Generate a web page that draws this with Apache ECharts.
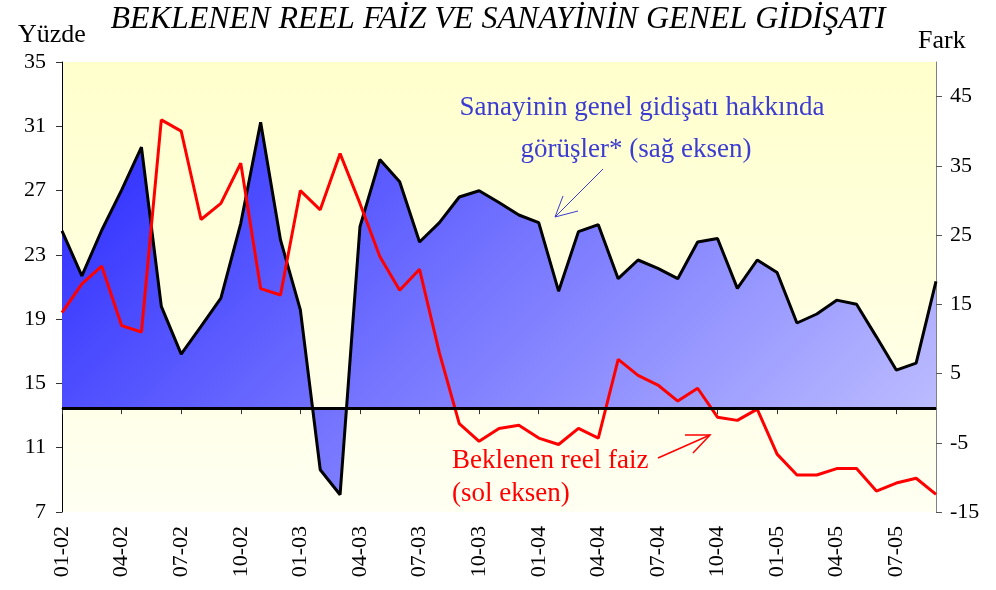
<!DOCTYPE html>
<html>
<head>
<meta charset="utf-8">
<script src="https://cdn.jsdelivr.net/npm/echarts@6/dist/echarts.min.js"></script>
<style>
  html, body { margin: 0; padding: 0; background: #fff; }
  #chart { width: 996px; height: 590px; }
</style>
</head>
<body>
<div id="chart"></div>
<script>
// aylar (ay-yıl)
const months = [
  '01-02', '02-02', '03-02', '04-02', '05-02', '06-02', '07-02', '08-02', '09-02', '10-02', '11-02', '12-02',
  '01-03', '02-03', '03-03', '04-03', '05-03', '06-03', '07-03', '08-03', '09-03', '10-03', '11-03', '12-03',
  '01-04', '02-04', '03-04', '04-04', '05-04', '06-04', '07-04', '08-04', '09-04', '10-04', '11-04', '12-04',
  '01-05', '02-05', '03-05', '04-05', '05-05', '06-05', '07-05', '08-05', '09-05'
];

// Sanayinin genel gidişatı hakkında görüşler (fark, sağ eksen)
const sanayiGorus = [
  25.6, 19.1, 25.7, 31.5, 37.7, 14.7, 7.8, 11.8, 15.9, 26.7, 41.3, 24.3,
  14.2, -8.9, -12.5, 26.2, 35.9, 32.7, 24.0, 26.8, 30.5, 31.4, 29.7, 27.9,
  26.8, 16.9, 25.5, 26.5, 18.7, 21.4, 20.2, 18.7, 24.0, 24.5, 17.3, 21.4,
  19.6, 12.3, 13.6, 15.6, 15.0, 10.3, 5.5, 6.5, 18.3
];

// Beklenen reel faiz (yüzde, sol eksen)
const reelFaiz = [
  19.4, 21.2, 22.3, 18.6, 18.2, 31.4, 30.7, 25.2, 26.2, 28.7, 20.9, 20.5,
  27.0, 25.8, 29.3, 26.2, 22.9, 20.8, 22.1, 16.9, 12.5, 11.4, 12.2, 12.4,
  11.6, 11.2, 12.2, 11.6, 16.5, 15.5, 14.9, 13.9, 14.7, 12.9, 12.7, 13.4,
  10.6, 9.3, 9.3, 9.7, 9.7, 8.3, 8.8, 9.1, 8.1
];

const leftTicks = [7, 11, 15, 19, 23, 27, 31, 35];
const rightTicks = [-15, -5, 5, 15, 25, 35, 45];

const serif = 'Liberation Serif';
const chart = echarts.init(document.getElementById('chart'));

const option = {
  animation: false,
  backgroundColor: '#fff',
  title: {
    text: 'BEKLENEN REEL FAİZ VE SANAYİNİN GENEL GİDİŞATI',
    left: 'center',
    top: -1,
    textStyle: {
      fontFamily: serif,
      fontStyle: 'italic',
      fontWeight: 'normal',
      fontSize: 32,
      color: '#000'
    }
  },
  grid: {
    left: 62,
    right: 60,
    top: 62,
    bottom: 78,
    show: true,
    borderWidth: 0,
    backgroundColor: new echarts.graphic.LinearGradient(0, 0, 0, 1, [
      { offset: 0, color: '#FFFFCC' },
      { offset: 1, color: '#FFFFF2' }
    ])
  },
  xAxis: {
    type: 'category',
    data: months,
    boundaryGap: false,
    axisLine: { lineStyle: { color: '#333', width: 1 } },
    axisTick: { interval: 2, length: 6, lineStyle: { color: '#333' } },
    axisLabel: {
      interval: 2,
      rotate: 90,
      margin: 14,
      fontFamily: serif,
      fontSize: 22,
      color: '#000'
    },
    splitLine: { show: false }
  },
  yAxis: [
    {
      type: 'value',
      position: 'left',
      min: 7,
      max: 35,
      axisLine: { show: true, lineStyle: { color: '#000', width: 1 } },
      axisTick: { show: true, customValues: leftTicks, length: 6, lineStyle: { color: '#333' } },
      axisLabel: {
        customValues: leftTicks,
        margin: 16,
        fontFamily: serif,
        fontSize: 22,
        color: '#000'
      },
      splitLine: { show: false }
    },
    {
      type: 'value',
      position: 'right',
      min: -15,
      max: 50,
      axisLine: { show: true, lineStyle: { color: '#808080', width: 1 } },
      axisTick: { show: true, customValues: rightTicks, length: 6, lineStyle: { color: '#555' } },
      axisLabel: {
        customValues: rightTicks,
        margin: 14,
        fontFamily: serif,
        fontSize: 22,
        color: '#000'
      },
      splitLine: { show: false }
    }
  ],
  series: [
    {
      name: 'Sanayinin genel gidişatı',
      type: 'line',
      yAxisIndex: 1,
      data: sanayiGorus,
      symbol: 'none',
      lineStyle: { color: '#000', width: 3 },
      areaStyle: {
        origin: 0,
        opacity: 1,
        // global gradient, top-left dark blue -> bottom-right light lavender
        color: new echarts.graphic.LinearGradient(62, 62, 724, 724, [
          { offset: 0, color: '#2020FF' },
          { offset: 0.45, color: '#7070FF' },
          { offset: 1, color: '#C8C8FF' }
        ], true)
      },
      markLine: {
        silent: true,
        symbol: 'none',
        label: { show: false },
        lineStyle: { color: '#000', width: 3, type: 'solid' },
        data: [{ yAxis: 0 }]
      },
      z: 2
    },
    {
      name: 'Beklenen reel faiz',
      type: 'line',
      yAxisIndex: 0,
      data: reelFaiz,
      symbol: 'none',
      lineStyle: { color: '#FF0000', width: 3 },
      z: 3
    }
  ],
  graphic: [
    { type: 'text', left: 18, top: 22, style: { text: 'Yüzde', font: '26px "Liberation Serif"', fill: '#000' } },
    { type: 'text', left: 918, top: 28, style: { text: 'Fark', font: '26px "Liberation Serif"', fill: '#000' } },
    {
      type: 'text', x: 642, y: 108, z: 10,
      style: { text: 'Sanayinin genel gidişatı hakkında', font: '27px "Liberation Serif"', fill: '#3C3CD2', align: 'center', verticalAlign: 'middle' }
    },
    {
      type: 'text', x: 636, y: 150, z: 10,
      style: { text: 'görüşler* (sağ eksen)', font: '27px "Liberation Serif"', fill: '#3C3CD2', align: 'center', verticalAlign: 'middle' }
    },
    { type: 'polyline', z: 10, shape: { points: [[603, 169], [555, 217]] }, style: { stroke: '#3C3CD2', lineWidth: 1, fill: null } },
    { type: 'polyline', z: 10, shape: { points: [[563, 196], [555, 217], [578, 211]] }, style: { stroke: '#3C3CD2', lineWidth: 1, fill: null } },
    {
      type: 'text', x: 452, y: 461, z: 10,
      style: { text: 'Beklenen reel faiz', font: '27px "Liberation Serif"', fill: '#FF0000', align: 'left', verticalAlign: 'middle' }
    },
    {
      type: 'text', x: 452, y: 494, z: 10,
      style: { text: '(sol eksen)', font: '27px "Liberation Serif"', fill: '#FF0000', align: 'left', verticalAlign: 'middle' }
    },
    { type: 'polyline', z: 10, shape: { points: [[658, 458], [710, 435]] }, style: { stroke: '#FF0000', lineWidth: 1.5, fill: null } },
    { type: 'polyline', z: 10, shape: { points: [[685, 435], [710, 435], [693, 453]] }, style: { stroke: '#FF0000', lineWidth: 1.5, fill: null } }
  ]
};

chart.setOption(option);
</script>
</body>
</html>
